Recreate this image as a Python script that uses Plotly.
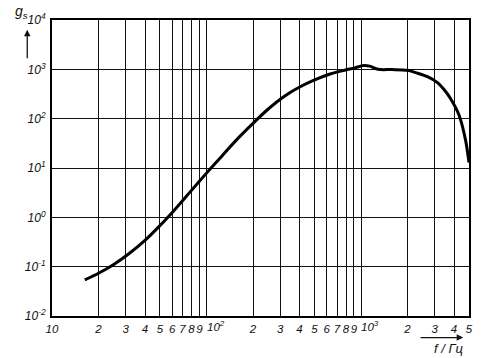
import plotly.graph_objects as go
import math

# Data (log-log)
freq = [16.3, 20, 25.1, 31.6, 39.8, 50.1, 63.1, 79.4, 100, 126, 158, 200, 251,
        316, 398, 501, 631, 794, 912, 1023, 1138, 1288, 1585, 1995, 2328,
        2692, 3126, 3467, 3811, 4315, 4753, 5000]
gs = [0.0542, 0.0735, 0.111, 0.1845, 0.336, 0.686, 1.50, 3.44, 7.87, 17.6, 38.5,
      80.5, 157, 279, 433, 611, 805, 968, 1072, 1189, 1161, 1000, 989, 955,
      832, 708, 537, 380, 251, 117, 36.3, 12.9]

x_tickvals = [10, 20, 30, 40, 50, 60, 70, 80, 90,
              100, 200, 300, 400, 500, 600, 700, 800, 900,
              1000, 2000, 3000, 4000, 5000]
x_ticktext = ["10", "2", "3", "4", "5", "6", "7", "8", "9",
              "", "2", "3", "4", "5", "6", "7", "8", "9",
              "", "2", "3", "4", "5"]
# decade labels placed just right of their gridlines (as in the reference)
x_decades = [100, 1000]
x_decade_text = ["10<sup>2</sup>", "10<sup>3</sup>"]
y_tickvals = [0.01, 0.1, 1, 10, 100, 1000, 10000]
y_ticktext = ["10<sup>-2</sup>", "10<sup>-1</sup>", "10<sup>0</sup>", "10<sup>1</sup>",
              "10<sup>2</sup>", "10<sup>3</sup>", "10<sup>4</sup>"]

font_x = dict(family="Liberation Sans", size=11.5, color="#111", style="italic")
font_y = dict(family="Liberation Sans", size=12, color="#111", style="italic")

fig = go.Figure()
fig.add_trace(go.Scatter(
    x=freq, y=gs, mode="lines",
    line=dict(color="#000", width=3, shape="spline", smoothing=0.8),
    showlegend=False, hoverinfo="skip"))

annotations = [
    dict(xref="paper", yref="paper", x=-0.072, y=1.026, text="g<sub>s</sub>",
         xanchor="center", yanchor="middle", showarrow=False,
         font=dict(family="Liberation Sans", size=14, color="#111", style="italic")),
    dict(xref="paper", yref="paper", x=-0.0594, y=0.967, ax=0, ay=30,
         text="", showarrow=True, arrowhead=2, arrowsize=1, arrowwidth=1.3,
         arrowcolor="#111"),
    dict(xref="paper", yref="paper", x=0.986, y=-0.073, ax=-44, ay=0,
         text="", showarrow=True, arrowhead=2, arrowsize=1, arrowwidth=1.3,
         arrowcolor="#111"),
    dict(xref="paper", yref="paper", x=0.95, y=-0.11, text="f / Гц",
         xanchor="center", yanchor="middle", showarrow=False,
         font=dict(family="Liberation Sans", size=13, color="#111", style="italic")),
]
for v, t in zip(x_decades, x_decade_text):
    annotations.append(dict(xref="x", yref="paper", x=math.log10(v), y=0,
                            text=t, showarrow=False, xanchor="left", yanchor="top",
                            xshift=-2, yshift=-1, font=font_x))

fig.update_layout(
    width=484, height=358,
    margin=dict(l=52, r=11, t=15, b=42),
    paper_bgcolor="white", plot_bgcolor="white",
    xaxis=dict(type="log", range=[1, math.log10(5000)],
               tickvals=x_tickvals, ticktext=x_ticktext, tickangle=0,
               showgrid=True, gridcolor="#111", gridwidth=1.2,
               showline=True, linecolor="#000", linewidth=2, mirror=True,
               ticks="", tickfont=font_x, ticklabelstandoff=1,
               zeroline=False),
    yaxis=dict(type="log", range=[-2, 4],
               tickvals=y_tickvals, ticktext=y_ticktext,
               showgrid=True, gridcolor="#111", gridwidth=1.2,
               showline=True, linecolor="#000", linewidth=2, mirror=True,
               ticks="", tickfont=font_y, ticklabelstandoff=2,
               zeroline=False),
    annotations=annotations,
)

fig.write_html("out.html")
